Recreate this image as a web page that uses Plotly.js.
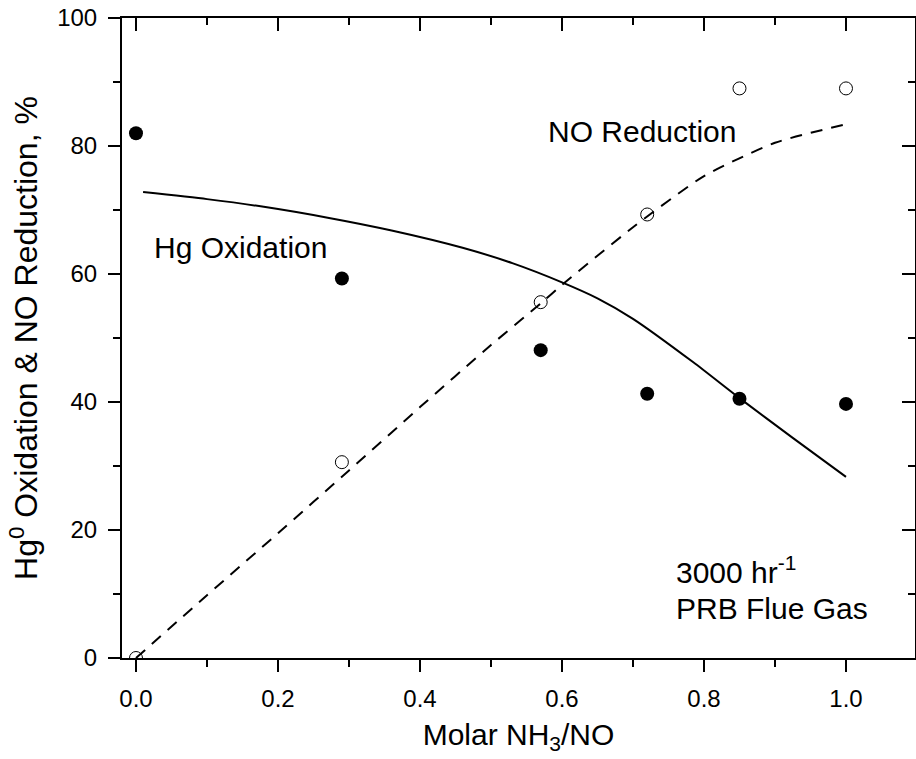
<!DOCTYPE html>
<html>
<head>
<meta charset="utf-8">
<script src="https://cdn.plot.ly/plotly-3.0.1.min.js"></script>
<style>html,body{margin:0;padding:0;background:#fff;}#chart{width:916px;height:759px;}</style>
</head>
<body>
<div id="chart"></div>
<script>
// Measured data (Molar NH3/NO ratio)
const ratio = [0, 0.29, 0.57, 0.72, 0.85, 1.0];
const hgOxidation = [82.0, 59.3, 48.1, 41.3, 40.5, 39.7];
const noReduction = [0, 30.6, 55.6, 69.3, 89.0, 89.0];

// Fitted curves
const hgFitX = [0.01, 0.1, 0.18, 0.27, 0.36, 0.46, 0.53, 0.6, 0.65, 0.7, 0.785, 0.85, 0.925, 1.0];
const hgFitY = [72.8, 71.7, 70.5, 68.8, 66.8, 64.1, 61.7, 58.7, 56.2, 53.0, 46.2, 40.6, 34.4, 28.3];
const noFitX = [0, 0.1, 0.2, 0.3, 0.4, 0.5, 0.57, 0.6, 0.7, 0.8, 0.9, 1.0];
const noFitY = [0, 9.8, 19.5, 29.3, 39.2, 48.9, 55.4, 58.3, 67.3, 75.3, 80.5, 83.4];

const xTicks = [0, 0.2, 0.4, 0.6, 0.8, 1.0];
const xTickText = ["0.0", "0.2", "0.4", "0.6", "0.8", "1.0"];
const yTicks = [0, 20, 40, 60, 80, 100];

const FONT = "Liberation Sans, Arial, Helvetica, sans-serif";
const xRange = [-0.0197, 1.0972];
const yRange = [0, 100];

const traces = [
  {x: hgFitX, y: hgFitY, mode: 'lines', line: {color: '#000', width: 2, shape: 'spline', smoothing: 0.6}, hoverinfo: 'skip'},
  {x: noFitX, y: noFitY, mode: 'lines', line: {color: '#000', width: 2, dash: '12px,9px', shape: 'spline', smoothing: 0.6}, hoverinfo: 'skip'},
  {x: ratio, y: hgOxidation, mode: 'markers', marker: {symbol: 'circle', size: 14, color: '#000'}},
  {x: ratio, y: noReduction, mode: 'markers', marker: {symbol: 'circle-open', size: 13, color: '#000', line: {width: 1, color: '#000'}}},
  {x: [], y: [], xaxis: 'x2', yaxis: 'y2', mode: 'markers', hoverinfo: 'skip'}
];

const minorCommon = {tickcolor: '#000', tickwidth: 2, showgrid: false};

const layout = {
  width: 916, height: 759,
  margin: {l: 122, r: 1, t: 18, b: 101, pad: 0},
  paper_bgcolor: '#fff', plot_bgcolor: '#fff',
  showlegend: false,
  font: {family: FONT, color: '#000'},
  xaxis: {
    range: xRange, showgrid: false, zeroline: false,
    showline: true, linecolor: '#000', linewidth: 2,
    ticks: 'outside', ticklen: 12, tickwidth: 2, tickcolor: '#000',
    tickvals: xTicks, ticktext: xTickText, ticklabelstandoff: 6,
    tickfont: {family: FONT, size: 24, color: '#000'},
    minor: Object.assign({dtick: 0.1, tick0: 0, ticks: 'outside', ticklen: 7}, minorCommon),
    title: {text: 'Molar NH<sub>3</sub>/NO', font: {family: FONT, size: 30, color: '#000'}, standoff: 13}
  },
  yaxis: {
    range: yRange, showgrid: false, zeroline: false,
    showline: true, linecolor: '#000', linewidth: 2,
    ticks: 'outside', ticklen: 12, tickwidth: 2, tickcolor: '#000',
    tickvals: yTicks, ticklabelstandoff: 6,
    tickfont: {family: FONT, size: 24, color: '#000'},
    minor: Object.assign({dtick: 10, tick0: 0, ticks: 'outside', ticklen: 7}, minorCommon),
    title: {text: 'Hg<sup>0</sup> Oxidation &amp; NO Reduction, %', font: {family: FONT, size: 32, color: '#000'}, standoff: 10}
  },
  xaxis2: {
    overlaying: 'x', side: 'top', anchor: 'y', range: xRange,
    showgrid: false, zeroline: false, showline: true, linecolor: '#000', linewidth: 2,
    ticks: 'inside', ticklen: 13, tickwidth: 2, tickcolor: '#000',
    tickvals: xTicks, showticklabels: false,
    minor: Object.assign({dtick: 0.1, tick0: 0, ticks: 'inside', ticklen: 7}, minorCommon)
  },
  yaxis2: {
    overlaying: 'y', side: 'right', anchor: 'x', range: yRange,
    showgrid: false, zeroline: false, showline: true, linecolor: '#000', linewidth: 2,
    ticks: 'inside', ticklen: 13, tickwidth: 2, tickcolor: '#000',
    tickvals: yTicks, showticklabels: false,
    minor: Object.assign({dtick: 10, tick0: 0, ticks: 'inside', ticklen: 7}, minorCommon)
  },
  annotations: [
    {text: 'NO Reduction', x: 0.578, y: 82.2, xref: 'x', yref: 'y', xanchor: 'left', yanchor: 'middle', showarrow: false, font: {family: FONT, size: 30, color: '#000'}},
    {text: 'Hg Oxidation', x: 0.022, y: 64.2, xref: 'x', yref: 'y', xanchor: 'left', yanchor: 'middle', showarrow: false, font: {family: FONT, size: 30, color: '#000'}},
    {text: '3000 hr<sup>-1</sup>', x: 0.758, y: 13.75, xref: 'x', yref: 'y', xanchor: 'left', yanchor: 'middle', showarrow: false, font: {family: FONT, size: 30, color: '#000'}},
    {text: 'PRB Flue Gas', x: 0.758, y: 7.8, xref: 'x', yref: 'y', xanchor: 'left', yanchor: 'middle', showarrow: false, font: {family: FONT, size: 30, color: '#000'}}
  ]
};

Plotly.newPlot('chart', traces, layout, {staticPlot: true, displayModeBar: false});
</script>
</body>
</html>
